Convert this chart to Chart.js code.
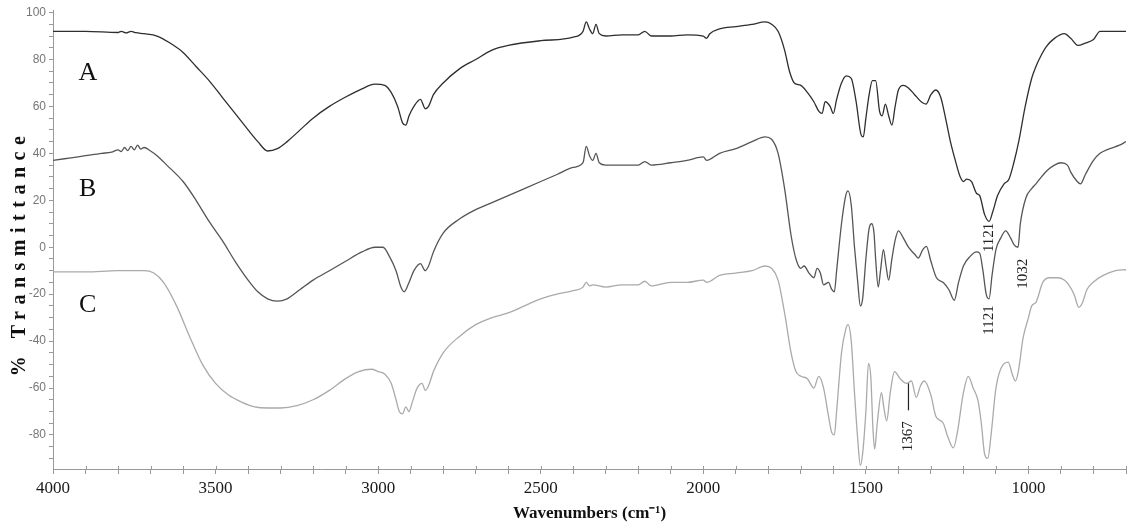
<!DOCTYPE html>
<html>
<head>
<meta charset="utf-8">
<script src="https://cdn.jsdelivr.net/npm/chart.js@4.4.1/dist/chart.umd.min.js"></script>
<style>
    html, body { margin: 0; padding: 0; background: #fff; }
    #wrap { width: 1130px; height: 527px; position: relative; }
</style>
</head>
<body>
<div id="wrap"><canvas id="ftir"></canvas></div>
<script>
// wavenumbers (cm-1) and % transmittance
var wnA = [4000, 3900, 3800, 3790, 3775, 3760, 3745, 3720, 3680, 3640, 3600, 3560, 3520, 3480, 3440, 3400, 3370, 3340, 3310, 3280, 3240, 3200, 3150, 3100, 3050, 3010, 2980, 2960, 2940, 2925, 2915, 2905, 2890, 2870, 2855, 2845, 2830, 2800, 2750, 2700, 2650, 2600, 2500, 2400, 2370, 2360, 2350, 2340, 2330, 2320, 2300, 2250, 2200, 2180, 2160, 2100, 2050, 2000, 1990, 1980, 1950, 1900, 1850, 1810, 1790, 1770, 1750, 1735, 1720, 1700, 1680, 1660, 1645, 1635, 1625, 1610, 1600, 1590, 1575, 1560, 1545, 1530, 1515, 1508, 1500, 1490, 1480, 1470, 1458, 1450, 1440, 1430, 1420, 1410, 1400, 1385, 1370, 1350, 1330, 1315, 1300, 1285, 1270, 1255, 1240, 1225, 1210, 1200, 1190, 1175, 1160, 1150, 1135, 1121, 1110, 1095, 1075, 1060, 1045, 1030, 1010, 990, 977, 960, 945, 920, 890, 870, 848, 825, 800, 780, 740, 700];
var tA = [92, 92, 91.5, 92, 91.3, 92, 91.4, 91, 90, 87, 83, 77, 71, 64, 57, 50, 45, 41, 42, 45, 50, 55, 60, 64, 67.5, 69.5, 69, 66, 60, 53, 52, 56, 60, 63, 59, 60, 65, 70, 76, 80, 84, 86, 88, 89.5, 92, 96, 93, 91, 95, 91, 90, 90.5, 90.5, 92, 90, 90, 90.5, 90, 89, 91, 93, 94, 95, 96, 95, 92, 84, 75, 70, 69, 66, 62, 58, 57, 62, 60, 57, 63, 70, 73, 72, 62, 48, 47, 55, 65, 71, 71, 58, 56, 61, 56, 52, 60, 67, 69, 68, 65, 62, 61, 65, 67, 64, 55, 45, 37, 30, 28, 29, 28, 23, 22, 14, 11, 15, 22, 27, 29, 36, 45, 60, 72, 77, 82, 85.5, 89, 91, 89, 86, 87, 88.5, 92, 92, 92];

var wnB = [4000, 3950, 3900, 3850, 3820, 3800, 3790, 3780, 3770, 3760, 3750, 3740, 3730, 3720, 3700, 3680, 3650, 3600, 3560, 3520, 3480, 3440, 3400, 3370, 3340, 3310, 3280, 3240, 3200, 3150, 3100, 3050, 3010, 2985, 2965, 2945, 2930, 2920, 2905, 2890, 2870, 2855, 2845, 2830, 2800, 2750, 2700, 2650, 2600, 2550, 2500, 2450, 2400, 2370, 2360, 2350, 2340, 2330, 2320, 2300, 2250, 2200, 2180, 2160, 2100, 2050, 2000, 1990, 1950, 1900, 1850, 1810, 1790, 1770, 1750, 1730, 1715, 1700, 1690, 1675, 1660, 1650, 1640, 1630, 1615, 1605, 1597, 1590, 1575, 1562, 1555, 1545, 1535, 1525, 1517, 1510, 1500, 1490, 1482, 1475, 1470, 1462, 1455, 1446, 1438, 1430, 1420, 1410, 1400, 1385, 1369, 1350, 1339, 1325, 1314, 1300, 1283, 1262, 1245, 1228, 1215, 1200, 1180, 1160, 1150, 1140, 1130, 1121, 1112, 1100, 1085, 1070, 1055, 1044, 1032, 1025, 1008, 990, 977, 960, 940, 920, 900, 880, 870, 850, 840, 825, 800, 780, 750, 720, 700];
var tB = [37, 38, 39, 40, 40.5, 41.5, 40.8, 42.5, 41.2, 43, 41.5, 43.5, 41.8, 42.5, 41, 39, 35, 28, 20, 11, 3, -6, -14, -19, -22, -23, -22, -18, -14, -10, -6, -2, 0, 0, -4, -10, -17, -19, -15, -10, -7, -10, -8, -2, 6, 12, 16, 19, 22, 25, 28, 31, 34, 36, 43, 39, 37, 40, 36, 35, 35, 35, 36.5, 35, 36, 37, 38.5, 37, 40, 42, 45, 47, 46, 40, 25, 5, -5, -9, -8, -11, -13, -9, -11, -16, -15, -18, -19, -10, 10, 22, 24, 18, 0, -15, -25, -22, -5, 8, 10, 6, -5, -17, -10, -1, -8, -14, -5, 3, 7, 4, 0, -3, -4.6, -1, 0.4, -6, -13, -15, -18, -22.6, -15, -8, -4, -2, -2.5, -10, -20, -22, -12, -1, 4, 7, 4, 1, 0, 10, 21, 25, 27, 30, 33, 35, 36, 35, 32, 28, 27, 31, 37, 40, 42, 43.5, 45];

var wnC = [4000, 3900, 3800, 3720, 3690, 3660, 3620, 3580, 3540, 3500, 3460, 3420, 3380, 3340, 3300, 3250, 3200, 3150, 3100, 3060, 3020, 3000, 2980, 2960, 2945, 2935, 2925, 2915, 2905, 2895, 2880, 2865, 2855, 2845, 2830, 2800, 2750, 2700, 2650, 2600, 2550, 2500, 2450, 2400, 2370, 2360, 2350, 2340, 2300, 2250, 2200, 2180, 2160, 2100, 2050, 2000, 1990, 1950, 1900, 1850, 1810, 1790, 1770, 1750, 1730, 1715, 1700, 1680, 1660, 1645, 1630, 1615, 1605, 1597, 1590, 1575, 1562, 1555, 1545, 1535, 1525, 1517, 1510, 1500, 1492, 1485, 1478, 1473, 1465, 1452, 1445, 1436, 1425, 1412, 1395, 1375, 1360, 1345, 1332, 1320, 1300, 1285, 1262, 1250, 1231, 1220, 1200, 1185, 1170, 1155, 1145, 1135, 1125, 1115, 1100, 1078, 1062, 1050, 1040, 1030, 1017, 1000, 990, 977, 956, 935, 910, 890, 876, 860, 845, 835, 820, 802, 770, 732, 700];
var tC = [-10.5, -10.5, -10, -10, -11, -15, -25, -38, -50, -58, -63, -66, -68, -68.5, -68.5, -67.5, -65, -61, -56, -53, -52, -53, -54, -58, -65, -70, -71, -68, -70, -66, -60, -58, -61, -59, -53, -45, -38, -33, -30, -28, -25, -22, -20, -18.5, -17, -15, -16.5, -16, -17, -16, -16, -14.5, -16.5, -15, -15, -14, -15, -12, -11, -10, -8, -9, -14, -28, -45, -53, -55, -56, -60, -55, -60, -72, -79, -80, -70, -45, -35, -33, -40, -62, -82, -93, -88, -70, -49.5, -55, -78, -86, -75, -62, -68, -74, -62, -53, -56, -58, -57, -64, -59, -57, -63, -72, -75, -80, -85.5, -80, -62, -55, -60, -65.5, -75, -88, -90, -80, -60, -50, -49, -54, -57, -52, -39, -30, -25, -23.5, -15, -13, -13, -14, -16, -20, -25.6, -24, -18, -15, -12, -10, -9.6];

// tick labels
var xLabels = [4000, 3500, 3000, 2500, 2000, 1500, 1000];
var yLabels = [-80, -60, -40, -20, 0, 20, 40, 60, 80, 100];

// curve letters and band labels, in data units
var curveNames = ['A', 'B', 'C'];
var namePos = [[3893, 74], [3893, 24.7], [3893, -24.7]];
var bandText = ['1121', '1121', '1032', '1367'];
var bandPos = [[1121, 4.2], [1121, -31], [1017, -11.3], [1369, -80.5]];

function toPoints(wn, t) {
    var pts = [];
    for (var i = 0; i < wn.length; i++) pts.push({ x: wn[i], y: t[i] });
    return pts;
}

var serif = '"Liberation Serif", "Times New Roman", serif';

var labelPlugin = {
    id: 'ftirLabels',
    afterDatasetsDraw: function (chart) {
        var ctx = chart.ctx;
        var xs = chart.scales.x, ys = chart.scales.y;
        ctx.save();
        ctx.fillStyle = '#111';
        ctx.font = '26px ' + serif;
        ctx.textAlign = 'center';
        ctx.textBaseline = 'middle';
        curveNames.forEach(function (n, i) {
            ctx.fillText(n, xs.getPixelForValue(namePos[i][0]), ys.getPixelForValue(namePos[i][1]));
        });

        ctx.font = '15px ' + serif;
        ctx.fillStyle = '#222';
        bandText.forEach(function (t, i) {
            var px = xs.getPixelForValue(bandPos[i][0]);
            var py = ys.getPixelForValue(bandPos[i][1]);
            ctx.save();
            ctx.translate(px, py);
            ctx.rotate(-Math.PI / 2);
            ctx.fillText(t, 0, 0);
            ctx.restore();
        });

        // small marker line above 1367
        ctx.strokeStyle = '#222';
        ctx.lineWidth = 1.2;
        ctx.beginPath();
        ctx.moveTo(xs.getPixelForValue(1369), ys.getPixelForValue(-58));
        ctx.lineTo(xs.getPixelForValue(1369), ys.getPixelForValue(-69.5));
        ctx.stroke();

        // y title, spaced out like the original
        ctx.save();
        ctx.translate(20, 253);
        ctx.rotate(-Math.PI / 2);
        ctx.font = 'bold 20px ' + serif;
        ctx.fillStyle = '#111';
        if ('letterSpacing' in ctx) ctx.letterSpacing = '6.5px';
        ctx.fillText('% Transmittance', 0, 0);
        ctx.restore();

        // x ticks cross the axis line
        ctx.strokeStyle = '#999';
        ctx.lineWidth = 1;
        ctx.beginPath();
        xs.ticks.forEach(function (t) {
            var px = Math.round(xs.getPixelForValue(t.value)) + 0.5;
            ctx.moveTo(px, ys.bottom - 3);
            ctx.lineTo(px, ys.bottom);
        });
        ctx.stroke();
        ctx.restore();
    }
};

var config = {
    type: 'line',
    data: {
        datasets: [
            { label: 'A', data: toPoints(wnA, tA), borderColor: '#2e2e2e' },
            { label: 'B', data: toPoints(wnB, tB), borderColor: '#555555' },
            { label: 'C', data: toPoints(wnC, tC), borderColor: '#aaaaaa' }
        ]
    },
    options: {
        responsive: false,
        animation: false,
        parsing: false,
        // pull the plot up to the top edge; the 100 label gets cut like in the original
        layout: { autoPadding: false, padding: { left: 0, right: 0, top: -4, bottom: 0 } },
        elements: {
            point: { radius: 0 },
            line: { borderWidth: 1.3, cubicInterpolationMode: 'monotone' }
        },
        plugins: { legend: { display: false }, tooltip: { enabled: false } },
        scales: {
            x: {
                type: 'linear',
                reverse: true,
                min: 700,
                max: 4000,
                afterFit: function (s) { s.height = 58; },
                afterBuildTicks: function (s) {
                    var t = [];
                    for (var v = 4000; v >= 700; v -= 100) t.push({ value: v });
                    s.ticks = t;
                },
                ticks: {
                    autoSkip: false,
                    maxRotation: 0,
                    padding: 4,
                    color: '#1a1a1a',
                    font: { family: serif, size: 17 },
                    callback: function (v) { return xLabels.indexOf(v) >= 0 ? String(v) : ''; }
                },
                grid: { drawOnChartArea: false, tickLength: 5, color: '#999' },
                border: { color: '#999', width: 1 },
                title: {
                    display: true,
                    text: 'Wavenumbers (cm\u207B\u00B9)',
                    color: '#111',
                    font: { family: serif, size: 17, weight: 'bold' },
                    padding: { top: 0, bottom: 3 }
                }
            },
            y: {
                type: 'linear',
                min: -94.5,
                max: 101,
                afterFit: function (s) { s.width = 53; },
                afterBuildTicks: function (s) {
                    var t = [];
                    for (var v = -90; v <= 100; v += 5) t.push({ value: v });
                    s.ticks = t;
                },
                ticks: {
                    autoSkip: false,
                    padding: 3,
                    color: '#777',
                    font: { family: '"Liberation Sans", Arial, sans-serif', size: 12 },
                    callback: function (v) { return yLabels.indexOf(v) >= 0 ? String(v) : ''; }
                },
                grid: { drawOnChartArea: false, tickLength: 4, color: '#999' },
                border: { color: '#999', width: 1 },
                title: { display: false }
            }
        }
    },
    plugins: [labelPlugin]
};

var canvas = document.getElementById('ftir');
canvas.width = 1130;
canvas.height = 527;
var chart = new Chart(canvas.getContext('2d'), config);
</script>
</body>
</html>
